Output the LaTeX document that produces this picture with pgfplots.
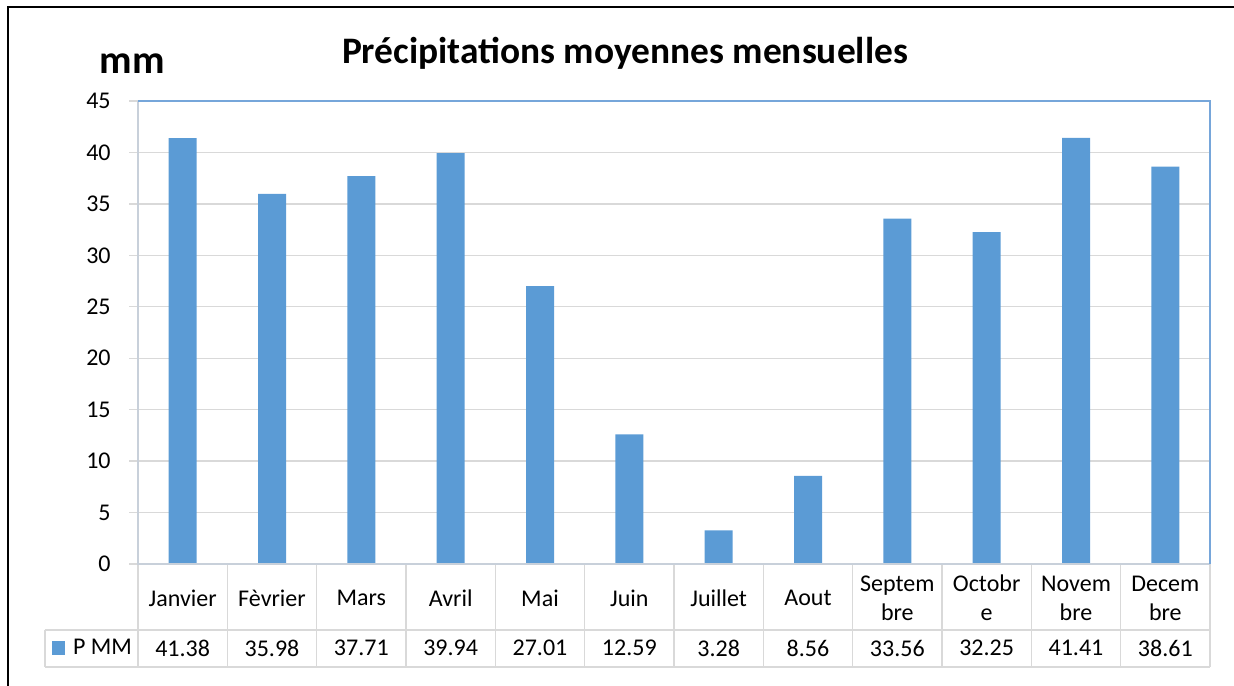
\documentclass[border=0pt]{standalone}
\usepackage{fontspec}
\setmainfont{Carlito}
\usepackage{pgfplots}
\usepackage{pgfplotstable}
\pgfplotsset{compat=1.18}

\definecolor{barblue}{RGB}{91,155,213}
\definecolor{edgeblue}{RGB}{118,166,218}
\definecolor{gridgray}{RGB}{217,217,217}
\definecolor{axisgray}{RGB}{200,208,218}

% monthly mean precipitation (mm)
\pgfplotstableread[col sep=comma]{
idx,pmm
0,41.38
1,35.98
2,37.71
3,39.94
4,27.01
5,12.59
6,3.28
7,8.56
8,33.56
9,32.25
10,41.41
11,38.61
}\datatable

\newcommand\labfont{\fontsize{12}{14.5}\selectfont}

\begin{document}
\begin{tikzpicture}
\begin{axis}[
  at={(69pt,60.5pt)}, anchor=south west,
  scale only axis, width=536pt, height=231.5pt,
  xmin=-0.5, xmax=11.5, ymin=0, ymax=45,
  clip=false,
  axis line style={draw=none},
  ytick={0,5,...,45},
  ytick pos=left,
  xtick={0,...,11},
  xticklabels={Janvier,Fèvrier,Mars,Avril,Mai,Juin,Juillet,Aout,{Septem\\bre},{Octobr\\e},{Novem\\bre},{Decem\\bre}},
  xticklabel style={align=center, anchor=center, yshift=-12.5pt, font=\labfont, inner sep=0pt},
  xtick style={draw=none},
  tick align=outside,
  major tick length=4.5pt,
  ytick style={draw=gridgray, line width=0.65pt},
  yticklabel style={font=\labfont, inner sep=0pt, anchor=east, xshift=-9pt},
  /pgf/number format/assume math mode=true,
  ymajorgrids,
  major grid style={draw=gridgray, line width=0.65pt},
  legend style={at={(axis description cs:-0.0410,-0.1814)}, anchor=center,
    draw=none, fill=none, font=\labfont, inner sep=0pt},
  legend image code/.code={\fill[barblue] (0pt,-3.3pt) rectangle (6.6pt,3.3pt);
    \path (8.4pt,0pt);},
]
\addplot[ybar, bar width=14pt, fill=barblue, draw=none] table[x=idx, y=pmm] {\datatable};
\addlegendentry{P MM}

% values row of the data table
\addplot[draw=none, mark=none, forget plot, nodes near coords,
  point meta=explicit symbolic,
  every node near coord/.append style={anchor=center, yshift=-42pt, font=\labfont, text=black}]
  table[x=idx, y expr=0, meta=pmm] {\datatable};

% data table grid
\pgfplotsinvokeforeach{-0.5,0.5,...,11.5}{
  \draw[gridgray, line width=0.65pt] (axis cs:#1,0) -- ++(0pt,-51.5pt);
}
\draw[gridgray, line width=0.65pt] ([xshift=-46.5pt,yshift=-33pt]axis cs:-0.5,0) -- ([yshift=-33pt]axis cs:11.5,0);
\draw[gridgray, line width=0.65pt] ([xshift=-46.5pt,yshift=-51.5pt]axis cs:-0.5,0) -- ([yshift=-51.5pt]axis cs:11.5,0);
\draw[gridgray, line width=0.65pt] ([xshift=-46.5pt,yshift=-33pt]axis cs:-0.5,0) -- ([xshift=-46.5pt,yshift=-51.5pt]axis cs:-0.5,0);

% plot area border
\draw[axisgray, line width=0.75pt] (axis cs:-0.5,45) -- (axis cs:-0.5,0) -- (axis cs:11.5,0);
\draw[edgeblue, line width=1pt] (axis cs:-0.5,45) -- (axis cs:11.5,45) -- (axis cs:11.5,0);
\end{axis}

\node[font=\bfseries\fontsize{18.7}{22}\selectfont, anchor=base] at (312.5pt,310.5pt) {Précipitations moyennes mensuelles};
\node[font=\bfseries\fontsize{20}{24}\selectfont, anchor=base] at (66.25pt,305.5pt) {mm};
\draw[black, line width=1.2pt] (4pt,-2pt) -- (4pt,339pt) -- (620pt,339pt);

\pgfresetboundingbox
\path (0pt,0pt) rectangle (617pt,342.5pt);
\end{tikzpicture}
\end{document}
